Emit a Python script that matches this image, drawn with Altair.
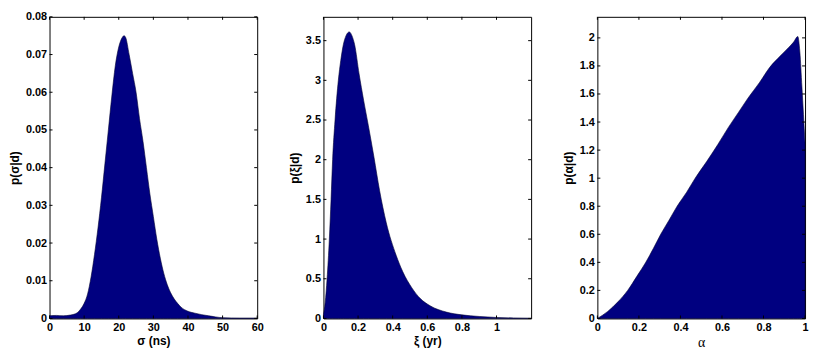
import altair as alt
import pandas as pd

# ---------------- data ----------------
sigma_x = [0, 2, 4, 6, 7, 8, 9, 10, 11, 12, 13, 14, 15, 16, 17, 18, 19, 20, 21, 21.5,
           22, 23, 24, 25, 26, 27, 28, 29, 30, 31, 32, 33, 34, 35, 36, 37, 38, 40, 42,
           44, 46, 48, 50, 55, 60]
sigma_p = [0.0007, 0.0008, 0.0007, 0.0009, 0.0011, 0.0015, 0.0025, 0.004, 0.0065, 0.011,
           0.017, 0.024, 0.032, 0.041, 0.050, 0.059, 0.067, 0.072, 0.0745, 0.075, 0.0745,
           0.070, 0.065, 0.060, 0.053, 0.047, 0.040, 0.033, 0.027, 0.021, 0.016, 0.012,
           0.009, 0.0068, 0.0052, 0.004, 0.003, 0.0019, 0.0014, 0.001, 0.0007, 0.0004,
           0.0002, 0.0001, 0.0001]

xi_x = [0, 0.01, 0.021, 0.034, 0.044, 0.053, 0.067, 0.086, 0.10, 0.115, 0.13, 0.149,
        0.165, 0.18, 0.206, 0.232, 0.259, 0.292, 0.324, 0.363, 0.42, 0.458, 0.511,
        0.56, 0.616, 0.71, 0.8, 0.9, 1.0, 1.1, 1.2]
xi_p = [0.05, 0.2, 0.5, 1.0, 1.5, 2.0, 2.5, 3.0, 3.25, 3.45, 3.56, 3.61, 3.56, 3.45,
        3.08, 2.75, 2.435, 2.03, 1.615, 1.205, 0.796, 0.59, 0.385, 0.25, 0.16, 0.08,
        0.045, 0.025, 0.012, 0.006, 0.003]

alpha_x = [0, 0.05, 0.1, 0.146, 0.19, 0.233, 0.27, 0.305, 0.345, 0.384, 0.43, 0.471,
           0.527, 0.58, 0.63, 0.68, 0.725, 0.78, 0.83, 0.88, 0.92, 0.945, 0.965, 0.975,
           0.985, 1.0]
alpha_p = [0, 0.05, 0.12, 0.2, 0.3, 0.4, 0.5, 0.6, 0.7, 0.8, 0.9, 1.0, 1.12, 1.24, 1.36,
           1.47, 1.57, 1.68, 1.79, 1.87, 1.93, 1.97, 2.01, 1.9, 1.65, 1.25]

sigma_xticks = [0, 10, 20, 30, 40, 50, 60]
sigma_yticks = [0, 0.01, 0.02, 0.03, 0.04, 0.05, 0.06, 0.07, 0.08]
xi_xticks = [0, 0.2, 0.4, 0.6, 0.8, 1.0]
xi_yticks = [0, 0.5, 1, 1.5, 2, 2.5, 3, 3.5]
alpha_xticks = [0, 0.2, 0.4, 0.6, 0.8, 1.0]
alpha_yticks = [0, 0.2, 0.4, 0.6, 0.8, 1.0, 1.2, 1.4, 1.6, 1.8, 2.0]

W, H = 210, 305
FILL = "#000080"
TK = 3


def panel(xs, ps, xdom, ydom, xticks, yticks, xtitle, ytitle, xtitle_style=None):
    df = pd.DataFrame({"x": xs, "p": ps})
    xs_sc = alt.Scale(domain=xdom, nice=False, zero=False)
    ys_sc = alt.Scale(domain=ydom, nice=False, zero=False)
    xt_kw = dict(titleFontWeight="bold", titleFont="Liberation Sans", titleFontSize=12)
    if xtitle_style:
        xt_kw.update(xtitle_style)
    xaxis = alt.Axis(values=xticks, format="~r", title=xtitle, ticks=False,
                     domain=False, grid=False, labelPadding=3, titlePadding=3,
                     labelOverlap=False, labelFlush=False, **xt_kw)
    yaxis = alt.Axis(values=yticks, format="~r", title=ytitle, ticks=False,
                     domain=False, grid=False, labelPadding=3, titlePadding=4,
                     labelOverlap=False, labelFlush=False,
                     titleFontWeight="bold", titleFont="Liberation Sans",
                     titleFontSize=12)
    area = alt.Chart(df).mark_area(
        color=FILL, interpolate="monotone", stroke="#000033", strokeWidth=0.6
    ).encode(
        x=alt.X("x:Q", scale=xs_sc, axis=xaxis),
        y=alt.Y("p:Q", scale=ys_sc, axis=yaxis),
    )
    xt = pd.DataFrame({"x": xticks})
    yt = pd.DataFrame({"p": yticks})
    rule = dict(color="black", strokeWidth=1)
    bx = alt.Chart(xt).mark_rule(**rule).encode(
        x=alt.X("x:Q", scale=xs_sc, axis=xaxis), y=alt.value(H), y2=alt.value(H - TK))
    tx = alt.Chart(xt).mark_rule(**rule).encode(
        x=alt.X("x:Q", scale=xs_sc, axis=xaxis), y=alt.value(0), y2=alt.value(TK))
    ly = alt.Chart(yt).mark_rule(**rule).encode(
        y=alt.Y("p:Q", scale=ys_sc, axis=yaxis), x=alt.value(0), x2=alt.value(TK))
    ry = alt.Chart(yt).mark_rule(**rule).encode(
        y=alt.Y("p:Q", scale=ys_sc, axis=yaxis), x=alt.value(W), x2=alt.value(W - TK))
    return alt.layer(area, bx, tx, ly, ry).properties(width=W, height=H)


p1 = panel(sigma_x, sigma_p, [0, 60], [0, 0.08], sigma_xticks, sigma_yticks,
           "σ (ns)", "p(σ|d)")
p2 = panel(xi_x, xi_p, [0, 1.2], [0, 3.8], xi_xticks, xi_yticks,
           "ξ (yr)", "p(ξ|d)")
p3 = panel(alpha_x, alpha_p, [0, 1], [0, 2.15], alpha_xticks, alpha_yticks,
           "α", "p(α|d)",
           xtitle_style=dict(titleFontWeight="normal", titleFont="Liberation Serif",
                             titleFontSize=14))

chart = alt.hconcat(p1, p2, p3, spacing=67, bounds="flush").properties(
    autosize=alt.AutoSizeParams(type="pad"),
    padding={"left": 0, "top": 0, "right": 0, "bottom": 0},
).configure_view(
    stroke="black", strokeWidth=1
).configure_axis(
    labelFont="Liberation Sans", labelFontWeight="bold", labelFontSize=11,
    labelColor="black", titleColor="black", labelOverlap=False
)

chart.save("out.html", embed_options={"renderer": "svg", "actions": False})
